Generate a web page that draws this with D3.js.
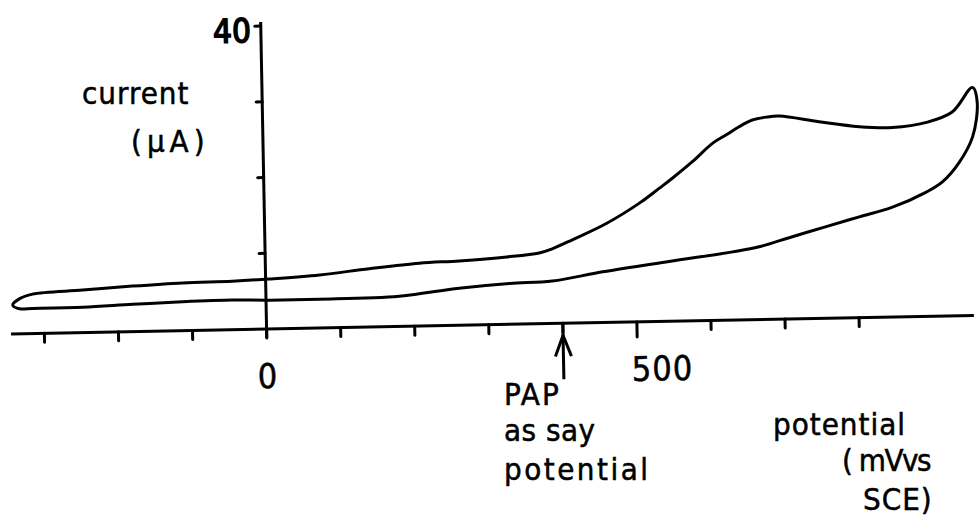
<!DOCTYPE html>
<html>
<head>
<meta charset="utf-8">
<script src="https://cdn.jsdelivr.net/npm/d3@7/dist/d3.min.js"></script>
<style>
  html, body { margin: 0; padding: 0; background: #fff; }
  svg { display: block; }
  text { font-family: "DejaVu Sans Condensed", "DejaVu Sans", sans-serif; fill: #000; stroke: #000; stroke-width: 0.5; }
</style>
</head>
<body>
<script>
// ---- data ----
const forwardPotential = [-342, -333, -315, -247, -180, -112, -45, 5, 73, 140, 208, 262, 326, 370, 386, 415, 462, 507, 534, 552, 579, 607, 626, 643, 661, 680, 698, 751, 805, 850, 896, 931, 959];
const forwardCurrent   = [3.8, 4.6, 5.2, 5.6, 6.0, 6.3, 6.4, 6.6, 7.0, 7.7, 8.3, 8.5, 8.9, 9.35, 9.8, 11.0, 13.1, 15.7, 17.6, 18.9, 21.0, 23.4, 24.5, 25.5, 26.35, 26.7, 26.8, 25.95, 25.2, 25.0, 25.6, 26.9, 30.1];
const reversePotential = [965, 958, 939, 916, 894, 848, 803, 758, 712, 667, 631, 545, 455, 387, 329, 261, 180, 72, 5, -45, -113, -180, -247, -315, -333];
const reverseCurrent   = [28.1, 23.6, 20.2, 17.7, 16.4, 14.5, 13.3, 12.1, 10.85, 9.6, 9.0, 7.9, 6.7, 5.6, 5.4, 4.9, 4.0, 3.8, 3.8, 3.9, 3.8, 3.6, 3.35, 3.3, 3.3];
const xTicks = [-300, -200, -100, 0, 100, 200, 300, 400, 500, 600, 700, 800];
const xTickLabels = [0, 500];
const yTicks = [10, 20, 30, 40];
const yTickLabels = [40];
const assayPotential = 400;

const W = 980, H = 521;
const svg = d3.select("body").append("svg").attr("width", W).attr("height", H);
svg.append("rect").attr("width", W).attr("height", H).attr("fill", "#fff");

const x = d3.scaleLinear().domain([-345, 955]).range([11, 974]);
const y = d3.scaleLinear().domain([0, 40]).range([329, 26]);

const g = svg.append("g").attr("transform", `rotate(-1.1, ${x(0)}, ${y(0)})`);

// x axis
g.append("line").attr("x1", x(-345)).attr("x2", x(955)).attr("y1", y(0)).attr("y2", y(0))
  .attr("stroke", "#000").attr("stroke-width", 3);
g.selectAll(".xt").data(xTicks).enter().append("line")
  .attr("x1", d => x(d)).attr("x2", d => x(d))
  .attr("y1", y(0)).attr("y2", d => y(0) + (d === 500 ? 15 : 9))
  .attr("stroke", "#000").attr("stroke-width", 3).attr("stroke-linecap", "round");
g.selectAll(".xl").data(xTickLabels).enter().append("text")
  .attr("x", d => d === 0 ? x(d) : x(d) - 6)
  .attr("y", y(0) + 59)
  .attr("text-anchor", d => d === 0 ? "middle" : "start")
  .attr("font-size", 34)
  .attr("letter-spacing", d => d === 0 ? 0 : 1)
  .text(d => d);

// y axis
g.append("line").attr("x1", x(0)).attr("x2", x(0)).attr("y1", y(0) + 9).attr("y2", y(40) - 4)
  .attr("stroke", "#000").attr("stroke-width", 3);
g.selectAll(".yt").data(yTicks).enter().append("line")
  .attr("x1", x(0) - 6).attr("x2", x(0))
  .attr("y1", d => y(d)).attr("y2", d => y(d))
  .attr("stroke", "#000").attr("stroke-width", 3).attr("stroke-linecap", "round");
g.selectAll(".yl").data(yTickLabels).enter().append("text")
  .attr("x", x(0) - 10).attr("y", d => y(d) + 16)
  .attr("text-anchor", "end").attr("font-size", 33).style("stroke-width", "1.5px")
  .text(d => d);

// voltammogram loop
const pts = forwardPotential.map((p, i) => [p, forwardCurrent[i]])
  .concat(reversePotential.map((p, i) => [p, reverseCurrent[i]]));
const line = d3.line().x(d => x(d[0])).y(d => y(d[1])).curve(d3.curveCatmullRomClosed.alpha(0.5));
g.append("path").attr("d", line(pts)).attr("fill", "none")
  .attr("stroke", "#000").attr("stroke-width", 3).attr("stroke-linejoin", "round");

// assay potential arrow
const ax = x(assayPotential), ay = y(0);
g.append("line").attr("x1", ax).attr("x2", ax).attr("y1", ay).attr("y2", ay + 56)
  .attr("stroke", "#000").attr("stroke-width", 3);
g.append("path").attr("d", `M${ax - 8},${ay + 33} L${ax},${ay + 12} L${ax + 8},${ay + 33}`)
  .attr("fill", "none").attr("stroke", "#000").attr("stroke-width", 3).attr("stroke-linejoin", "round");

// axis titles and annotation
const labels = [
  { t: "current", x: 82, y: 104, ls: 1 },
  { t: "(µA)", x: 131, y: 152, ls: 5 },
  { t: "PAP", x: 504, y: 405, ls: 2 },
  { t: "as say", x: 504, y: 441, ls: 0.5 },
  { t: "potential", x: 504, y: 480, ls: 2.5 },
  { t: "potential", x: 773, y: 435, ls: 1 },
  { t: "( mVvs", x: 842, y: 471, ls: -1.5 },
  { t: "SCE)", x: 863, y: 510, ls: 1 }
];
svg.selectAll(".lab").data(labels).enter().append("text")
  .attr("x", d => d.x).attr("y", d => d.y)
  .attr("font-size", 31).attr("letter-spacing", d => d.ls)
  .text(d => d.t);
</script>
</body>
</html>
